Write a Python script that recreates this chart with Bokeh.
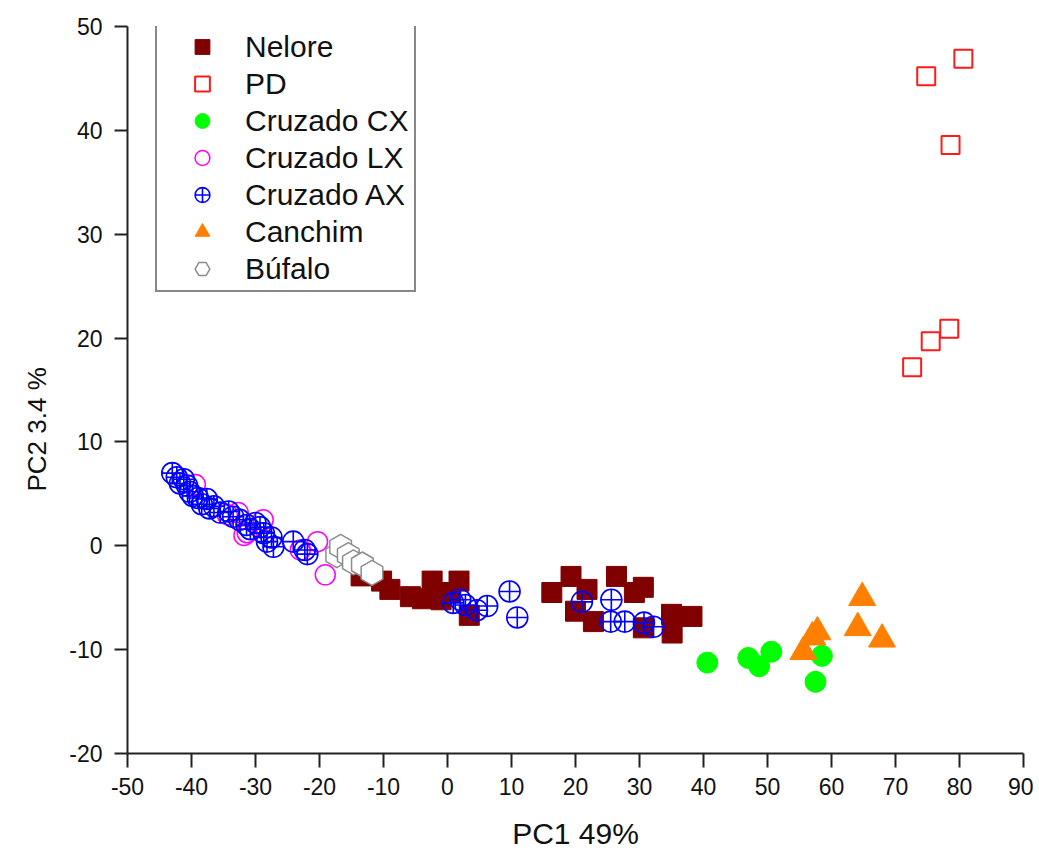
from bokeh.plotting import figure
from bokeh.models import Range1d, FixedTicker, Legend, LegendItem, Title
from bokeh.embed import file_html
from bokeh.resources import INLINE
import numpy as np

# ---- data ----
x_ticks = [-50, -40, -30, -20, -10, 0, 10, 20, 30, 40, 50, 60, 70, 80, 90]
y_ticks = [-20, -10, 0, 10, 20, 30, 40, 50]

nelore_x = [-13.5, -10.3, -9.0, -5.8, -3.9, -2.4, -1.0, 0.5, 1.8, 3.4,
            16.3, 19.3, 21.8, 20.0, 22.8, 26.4, 29.2, 30.6, 30.6, 35.0, 35.1, 38.2]
nelore_y = [-2.9, -3.4, -4.2, -4.9, -5.1, -3.4, -5.2, -4.5, -3.4, -6.7,
            -4.5, -2.95, -4.2, -6.3, -7.3, -2.95, -4.5, -4.0, -7.9, -6.6, -8.4, -6.8]

pd_x = [80.6, 74.8, 78.6, 78.4, 75.5, 72.6]
pd_y = [46.9, 45.2, 38.6, 20.9, 19.7, 17.2]

cx_x = [40.6, 47.0, 48.7, 50.6, 58.5, 57.5]
cx_y = [-11.25, -10.8, -11.6, -10.2, -10.6, -13.1]

lx_x = [-39.4, -34.4, -32.7, -31.8, -31.3, -28.8, -23.0, -20.3, -19.1]
lx_y = [5.9, 3.0, 3.2, 1.0, 1.25, 2.5, -0.4, 0.4, -2.8]

ax_x = [-43.0, -42.3, -41.8, -41.2, -40.7, -40.3, -39.8, -39.0, -38.4, -37.6,
        -37.2, -36.5, -35.5, -34.2, -33.5, -32.5, -31.4, -30.8, -30.0, -29.3,
        -28.7, -28.2, -27.5, -27.2, -24.1, -22.3, -21.9,
        0.9, 2.0, 2.8, 4.6, 6.2, 9.7, 10.9,
        21.0, 25.6, 25.5, 27.7, 30.7, 32.2]
ax_y = [7.0, 6.6, 6.0, 6.4, 5.8, 5.2, 4.8, 4.6, 4.0, 4.5,
        3.6, 3.8, 3.2, 3.3, 2.8, 2.5, 2.0, 1.6, 2.2, 1.8,
        1.2, 0.4, 0.8, -0.1, 0.4, -0.4, -0.8,
        -5.5, -5.2, -5.7, -6.2, -5.8, -4.4, -6.9,
        -5.4, -5.2, -7.3, -7.3, -7.4, -7.8]

canchim_x = [64.8, 64.1, 67.9, 57.8, 57.0, 55.6]
canchim_y = [-5.0, -7.9, -9.0, -8.3, -8.8, -10.2]

bufalo_x = [-17.3, -16.7, -15.5, -14.7, -13.3, -11.8]
bufalo_y = [-0.9, -0.1, -0.9, -1.6, -1.8, -2.6]

FONT = "Liberation Sans"

p = figure(width=1033, height=852,
           x_range=Range1d(-50, 90), y_range=Range1d(-20, 50),
           output_backend="svg", toolbar_location=None,
           min_border_left=127, min_border_top=26,
           min_border_right=10, min_border_bottom=98)
p.xgrid.visible = False
p.ygrid.visible = False
p.outline_line_color = None
p.background_fill_color = "white"
p.border_fill_color = "white"

r_nel = p.scatter(nelore_x, nelore_y, marker="square", size=20,
                  fill_color="#800000", line_color="#800000", line_width=1)
r_pd = p.scatter(pd_x, pd_y, marker="square", size=18,
                 fill_color=None, line_color="#FF1A1A", line_width=2)
r_cx = p.scatter(cx_x, cx_y, marker="circle", size=21,
                 fill_color="#00FF00", line_color="#00FF00", line_width=1)
r_lx = p.scatter(lx_x, lx_y, marker="circle", size=20,
                 fill_color=None, line_color="#FF00FF", line_width=1.5)
r_ax = p.scatter(ax_x, ax_y, marker="circle_cross", size=21,
                 fill_color=None, line_color="#0000FF", line_width=1.6)
r_can = p.scatter(canchim_x, canchim_y, marker="triangle", size=27,
                  fill_color="#FF8000", line_color="#FF8000", line_width=1)
r_buf = p.scatter(bufalo_x, bufalo_y, marker="hex", size=25, angle=np.pi / 6,
                  fill_color="white", line_color="#8C8C8C", line_width=1.5)

for ax in (p.xaxis[0], p.yaxis[0]):
    ax.axis_line_width = 2
    ax.axis_line_color = "#222222"
    ax.major_tick_line_width = 2
    ax.major_tick_line_color = "#222222"
    ax.major_tick_in = 0
    ax.minor_tick_in = 0
    ax.minor_tick_out = 0
    ax.major_label_text_font = FONT
    ax.major_label_text_font_size = "23px"
    ax.major_label_text_color = "#111111"
    ax.axis_label_text_font = FONT
    ax.axis_label_text_font_style = "normal"
    ax.axis_label_text_font_size = "30px"
    ax.axis_label_text_color = "#111111"

p.xaxis.ticker = FixedTicker(ticks=x_ticks)
p.yaxis.ticker = FixedTicker(ticks=y_ticks)
p.xaxis.major_label_overrides = {t: str(t) for t in x_ticks}
p.yaxis.major_label_overrides = {t: str(t) for t in y_ticks}
p.xaxis.major_tick_out = 14
p.yaxis.major_tick_out = 13
p.xaxis.major_label_standoff = 10
p.yaxis.major_label_standoff = 12
p.xaxis.axis_label = "PC1 49%"
p.xaxis.axis_label_standoff = 19

# y axis title, a little below the frame centre as in the reference
ytitle = Title(text="PC2 3.4 %", align="left", offset=262, standoff=29,
               text_font=FONT, text_font_size="26px", text_font_style="normal",
               text_color="#111111")
p.add_layout(ytitle, "left")

legend = Legend(items=[
    LegendItem(label="Nelore", renderers=[r_nel]),
    LegendItem(label="PD", renderers=[r_pd]),
    LegendItem(label="Cruzado CX", renderers=[r_cx]),
    LegendItem(label="Cruzado LX", renderers=[r_lx]),
    LegendItem(label="Cruzado AX", renderers=[r_ax]),
    LegendItem(label="Canchim", renderers=[r_can]),
    LegendItem(label="Búfalo", renderers=[r_buf]),
], location=(28, 461))
legend.border_line_color = "#111111"
legend.border_line_width = 2
legend.background_fill_alpha = 1
legend.padding = 3
legend.spacing = 0
legend.margin = 0
legend.glyph_width = 84
legend.glyph_height = 37
legend.label_height = 37
legend.label_width = 166
legend.label_standoff = 1
legend.label_text_font = FONT
legend.label_text_font_size = "30px"
legend.label_text_color = "#111111"
p.add_layout(legend)

open("out.html", "w").write(file_html(p, INLINE))
